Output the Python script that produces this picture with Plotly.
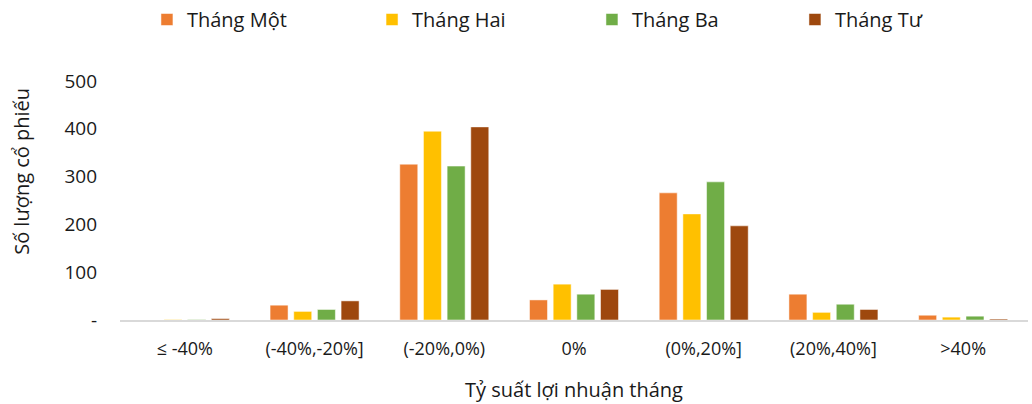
import plotly.graph_objects as go

categories = ["≤ -40%", "(-40%,-20%]", "(-20%,0%)", "0%", "(0%,20%]", "(20%,40%]", ">40%"]
series_names = ["Tháng Một", "Tháng Hai", "Tháng Ba", "Tháng Tư"]
thang_mot = [0, 31, 326, 42, 266, 54, 10]
thang_hai = [1, 18, 395, 75, 222, 16, 6]
thang_ba = [1, 22, 322, 54, 289, 33, 8]
thang_tu = [3, 40, 404, 64, 197, 22, 2]
colors = ["#ED7D31", "#FFC000", "#70AD47", "#9E480E"]
y_tickvals = [0, 100, 200, 300, 400, 500]
y_ticktext = ["-", "100", "200", "300", "400", "500"]
legend_x = [0.1424, 0.3605, 0.5736, 0.7703]

FONT = "Open Sans"

fig = go.Figure()
legend_ids = ["legend", "legend2", "legend3", "legend4"]
for name, vals, col, lid in zip(series_names, [thang_mot, thang_hai, thang_ba, thang_tu], colors, legend_ids):
    fig.add_trace(go.Bar(name=name, x=categories, y=vals, legend=lid, showlegend=True,
                         marker=dict(color=col, line=dict(color="rgba(255,255,255,0.5)", width=1))))

layout_legends = {}
for lid, lx in zip(legend_ids, legend_x):
    layout_legends[lid] = dict(orientation="h", xref="container", yref="container", x=lx, y=1.0,
                               xanchor="left", yanchor="top", font=dict(size=20), itemwidth=30,
                               bgcolor="rgba(0,0,0,0)", visible=True)

fig.update_layout(
    width=1032, height=404,
    showlegend=True,
    margin=dict(l=120, r=4, t=81, b=84),
    paper_bgcolor="white", plot_bgcolor="white",
    barmode="group", bargap=0.27, bargroupgap=0.24,
    font=dict(family=FONT, color="#1a1a1a", size=19),
    xaxis=dict(showgrid=False, showline=True, linecolor="#d9d9d9", linewidth=2, automargin=False,
               ticks="", tickfont=dict(size=18), ticklabelstandoff=11,
               title=dict(text="Tỷ suất lợi nhuận tháng", font=dict(size=20), standoff=24)),
    yaxis=dict(range=[0, 500], tickvals=y_tickvals, ticktext=y_ticktext, showgrid=False,
               zeroline=False, showline=False, ticks="", tickfont=dict(size=19), automargin=False,
               ticklabelstandoff=22),
    annotations=[dict(text="Số lượng cổ phiếu", xref="paper", yref="paper", x=0, y=0.62,
                      xshift=-98, textangle=-90, showarrow=False, font=dict(size=20),
                      xanchor="center", yanchor="middle")],
    **layout_legends,
)

fig.write_html("out.html")
